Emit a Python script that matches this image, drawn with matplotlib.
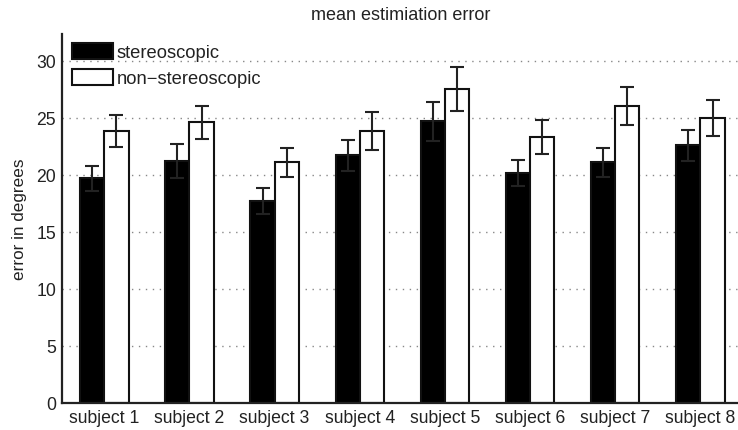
import matplotlib
matplotlib.use("Agg")
import matplotlib.pyplot as plt
import numpy as np
from matplotlib.patches import Patch

plt.rcParams['font.family'] = ['Liberation Sans', 'DejaVu Sans']

subjects = ['subject 1', 'subject 2', 'subject 3', 'subject 4',
            'subject 5', 'subject 6', 'subject 7', 'subject 8']
stereo = [19.7, 21.2, 17.7, 21.7, 24.7, 20.15, 21.1, 22.6]
stereo_err = [1.1, 1.5, 1.1, 1.37, 1.7, 1.14, 1.25, 1.37]
nonstereo = [23.8, 24.6, 21.1, 23.8, 27.5, 23.3, 26.0, 25.0]
nonstereo_err = [1.4, 1.45, 1.25, 1.67, 1.95, 1.47, 1.67, 1.58]

W, H = 738, 431
fig = plt.figure(figsize=(W/100, H/100), dpi=100)
ax = fig.add_axes([61.7/W, (H-404)/H, (743-61.7)/W, (404-35)/H])

x = np.arange(1, len(subjects)+1)
bw = 0.285
off = 0.142
ax.bar(x-off, stereo, bw, color='black', edgecolor='#111111', linewidth=1.5, zorder=2,
       label='stereoscopic')
ax.bar(x+off, nonstereo, bw, color='white', edgecolor='#111111', linewidth=1.5, zorder=2,
       label='non\u2212stereoscopic')
ax.errorbar(x-off, stereo, yerr=stereo_err, fmt='none', ecolor='#222222',
            elinewidth=1.5, capsize=4.7, capthick=1.5, zorder=3)
ax.errorbar(x+off, nonstereo, yerr=nonstereo_err, fmt='none', ecolor='#222222',
            elinewidth=1.5, capsize=4.7, capthick=1.5, zorder=3)

FS = 12.7
ax.set_xlim(0.5, 8.5)
ax.set_ylim(0, 32.34)
ax.set_xticks(x)
ax.set_xticklabels(subjects, fontsize=FS, color='#222222')
ax.set_yticks([0, 5, 10, 15, 20, 25, 30])
ax.set_yticklabels(['0', '5', '10', '15', '20', '25', '30'], fontsize=FS, color='#222222')
ax.tick_params(length=0, pad=4)
ax.yaxis.grid(True, linestyle=(0, (1, 4)), color='#888888', linewidth=1.0, zorder=0)
ax.set_axisbelow(True)
for s in ['top', 'right']:
    ax.spines[s].set_visible(False)
for s in ['left', 'bottom']:
    ax.spines[s].set_linewidth(1.6)
    ax.spines[s].set_color('#222222')

ax.set_ylabel('error in degrees', fontsize=12.3, color='#222222', va='center')
ax.yaxis.set_label_coords((20-61.7)/681.3, 0.5)
fig.text(401/W, 1-15/H, 'mean estimiation error', ha='center', va='center',
         fontsize=13.0, color='#222222')

handles = [Patch(facecolor='black', edgecolor='#111111', linewidth=1.5),
           Patch(facecolor='white', edgecolor='#111111', linewidth=1.5)]
leg = ax.legend(handles, ['stereoscopic', 'non\u2212stereoscopic'],
                loc='upper left', bbox_to_anchor=(71.5/W, 1-44/H),
                bbox_transform=fig.transFigure, frameon=False,
                fontsize=13.2, handlelength=2.25, handleheight=1.0,
                labelspacing=0.4, handletextpad=0.2, borderpad=0, borderaxespad=0)
for t in leg.get_texts():
    t.set_color('#222222')

fig.savefig('out.png', dpi=100)
